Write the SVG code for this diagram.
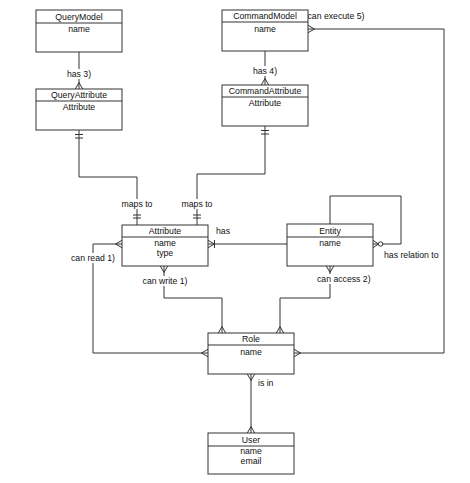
<svg xmlns="http://www.w3.org/2000/svg" width="470" height="483" viewBox="0 0 470 483">
<style>
.box{fill:#fff;stroke:#333;stroke-width:1}
.sep{stroke:#333;stroke-width:1}
text{font-family:"Liberation Sans",Arial,sans-serif;font-size:8.7px;fill:#111}
.c{text-anchor:middle}
.edge{fill:none;stroke:#333;stroke-width:1}
.lbg{fill:#fff;stroke:none}
.m{fill:none;stroke:#333;stroke-width:1}
</style>
<defs>
<marker id="many" markerUnits="userSpaceOnUse" viewBox="-12 -6 14 12" refX="0" refY="0" markerWidth="14" markerHeight="12" orient="auto-start-reverse">
<path class="m" d="M0,-3.7 L-6.5,0 L0,3.7"/>
</marker>
<marker id="oneMany" markerUnits="userSpaceOnUse" viewBox="-12 -6 14 12" refX="0" refY="0" markerWidth="14" markerHeight="12" orient="auto-start-reverse">
<path class="m" d="M0,-3.7 L-6.5,0 L0,3.7 M-6.5,-4 V4"/>
</marker>
<marker id="zeroMany" markerUnits="userSpaceOnUse" viewBox="-14 -6 16 12" refX="0" refY="0" markerWidth="16" markerHeight="12" orient="auto-start-reverse">
<path class="m" d="M0,-3.7 L-5.5,0 L0,3.7"/>
<circle cx="-7.6" cy="0" r="2.2" fill="#fff" stroke="#333" stroke-width="1"/>
</marker>
<marker id="one" markerUnits="userSpaceOnUse" viewBox="-12 -6 14 12" refX="0" refY="0" markerWidth="14" markerHeight="12" orient="auto-start-reverse">
<path class="m" d="M-4.5,-4 V4 M-8,-4 V4"/>
</marker>
<marker id="one2" markerUnits="userSpaceOnUse" viewBox="-13 -6 15 12" refX="0" refY="0" markerWidth="15" markerHeight="12" orient="auto-start-reverse">
<path class="m" d="M-7,-4 V4 M-10,-4 V4"/>
</marker>
</defs>
<rect width="470" height="483" fill="#fff"/>
<g id="connectors">
<path class="edge" d="M79,52 V89" marker-end="url(#many)"/>
<path class="edge" d="M265,51 V85" marker-end="url(#many)"/>
<path class="edge" d="M79,130 V177 H137 V225" marker-start="url(#one)" marker-end="url(#one2)"/>
<path class="edge" d="M265,126 V174 H197 V225" marker-start="url(#one)" marker-end="url(#one2)"/>
<path class="edge" d="M287,244 H208" marker-end="url(#oneMany)"/>
<path class="edge" d="M373,244 H401 V196 H330 V224" marker-start="url(#zeroMany)"/>
<path class="edge" d="M330,266 V298 H280 V333" marker-start="url(#many)" marker-end="url(#many)"/>
<path class="edge" d="M164,266 V298 H222 V333" marker-start="url(#many)" marker-end="url(#many)"/>
<path class="edge" d="M122,244 H93 V353 H208" marker-start="url(#many)" marker-end="url(#many)"/>
<path class="edge" d="M308,29 H444 V353 H294" marker-start="url(#many)" marker-end="url(#many)"/>
<path class="edge" d="M251,374 V433" marker-start="url(#many)" marker-end="url(#many)"/>
</g>
<g id="labels">
<rect class="lbg" x="67" y="69" width="24" height="10"/>
<text class="c" x="79" y="77">has 3)</text>
<rect class="lbg" x="253" y="66" width="24" height="10"/>
<text class="c" x="265" y="74">has 4)</text>
<rect class="lbg" x="121.5" y="199" width="31" height="10"/>
<text class="c" x="137" y="207">maps to</text>
<rect class="lbg" x="181.5" y="199" width="31" height="10"/>
<text class="c" x="197" y="207">maps to</text>
<text x="307.5" y="19">can execute 5)</text>
<text x="216" y="234">has</text>
<text x="384" y="258">has relation to</text>
<rect class="lbg" x="317" y="274" width="54" height="10"/>
<text x="317" y="282">can access 2)</text>
<rect class="lbg" x="142.5" y="276" width="45" height="10"/>
<text class="c" x="165" y="284">can write 1)</text>
<rect class="lbg" x="71" y="253" width="44" height="10"/>
<text class="c" x="93" y="261">can read 1)</text>
<text x="258" y="386">is in</text>
</g>
<g id="QueryModel">
<rect class="box" x="36" y="10" width="86" height="42"/>
<line class="sep" x1="36" y1="23" x2="122" y2="23"/>
<text class="c" x="79" y="19.5">QueryModel</text>
<text class="c" x="79" y="32">name</text>
</g>
<g id="QueryAttribute">
<rect class="box" x="36" y="89" width="86" height="41"/>
<line class="sep" x1="36" y1="101" x2="122" y2="101"/>
<text class="c" x="79" y="98">QueryAttribute</text>
<text class="c" x="79" y="110">Attribute</text>
</g>
<g id="CommandModel">
<rect class="box" x="222" y="10" width="86" height="41"/>
<line class="sep" x1="222" y1="22" x2="308" y2="22"/>
<text class="c" x="265" y="19">CommandModel</text>
<text class="c" x="265" y="32">name</text>
</g>
<g id="CommandAttribute">
<rect class="box" x="222" y="85" width="86" height="41"/>
<line class="sep" x1="222" y1="97" x2="308" y2="97"/>
<text class="c" x="265" y="94">CommandAttribute</text>
<text class="c" x="265" y="106">Attribute</text>
</g>
<g id="Attribute">
<rect class="box" x="122" y="225" width="86" height="41"/>
<line class="sep" x1="122" y1="237" x2="208" y2="237"/>
<text class="c" x="165" y="234">Attribute</text>
<text class="c" x="165" y="246">name</text>
<text class="c" x="165" y="256">type</text>
</g>
<g id="Entity">
<rect class="box" x="287" y="224" width="86" height="42"/>
<line class="sep" x1="287" y1="237" x2="373" y2="237"/>
<text class="c" x="330" y="233.5">Entity</text>
<text class="c" x="330" y="246">name</text>
</g>
<g id="Role">
<rect class="box" x="208" y="333" width="86" height="41"/>
<line class="sep" x1="208" y1="345" x2="294" y2="345"/>
<text class="c" x="251" y="342">Role</text>
<text class="c" x="251" y="355">name</text>
</g>
<g id="User">
<rect class="box" x="208" y="433" width="86" height="41"/>
<line class="sep" x1="208" y1="446" x2="294" y2="446"/>
<text class="c" x="251" y="442.5">User</text>
<text class="c" x="251" y="454">name</text>
<text class="c" x="251" y="464">email</text>
</g>
</svg>
